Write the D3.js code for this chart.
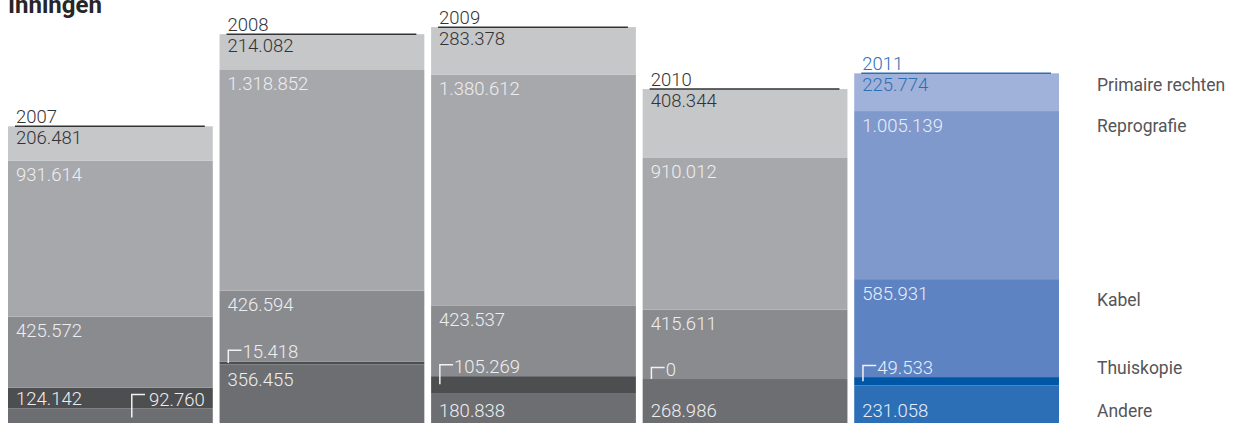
<!DOCTYPE html>
<html>
<head>
<meta charset="utf-8">
<script src="https://cdn.jsdelivr.net/npm/d3@7"></script>
<style>
  body { margin: 0; background: #fff; }
  svg { display: block; font-family: Roboto, sans-serif; }
</style>
</head>
<body>
<div id="chart-area"></div>
<script>
// DATA (bottom to top of each stack)
const years = ["2007", "2008", "2009", "2010", "2011"]
const categories = ["Andere", "Thuiskopie", "Kabel", "Reprografie", "Primaire rechten"]
const andere = [92760, 356455, 180838, 268986, 231058]
const thuiskopie = [124142, 15418, 105269, 0, 49533]
const kabel = [425572, 426594, 423537, 415611, 585931]
const reprografie = [931614, 1318852, 1380612, 910012, 1005139]
const primaire = [206481, 214082, 283378, 408344, 225774]
const title = "Inningen"

const WIDTH = 1244
const HEIGHT = 423
const BOTTOM = 424

const greys = { "Andere": "#6d6e72", "Thuiskopie": "#4d4e50", "Kabel": "#8a8b8f", "Reprografie": "#a7a8ac", "Primaire rechten": "#c6c7c9" }
const blues = { "Andere": "#2d6fb7", "Thuiskopie": "#0057a8", "Kabel": "#5e83c3", "Reprografie": "#7f99cc", "Primaire rechten": "#a0b1da" }

const svg = d3.select("#chart-area").append("svg")
  .attr("width", WIDTH)
  .attr("height", HEIGHT)

// table for the stack
const table = years.map((yr, i) => ({
  year: yr,
  "Andere": andere[i],
  "Thuiskopie": thuiskopie[i],
  "Kabel": kabel[i],
  "Reprografie": reprografie[i],
  "Primaire rechten": primaire[i]
}))
const series = d3.stack().keys(categories)(table)

// SCALES
const x = d3.scaleBand()
  .domain(years)
  .range([8, 1059])
  .paddingInner(0.032)
  .paddingOuter(0)

const y = d3.scaleLinear()
  .domain([0, 2500000])
  .range([BOTTOM, BOTTOM - 418])

const fmt = v => d3.format(",")(v).replace(/,/g, ".")
const isLast = yr => yr === years[years.length - 1]

// BARS
const layers = svg.selectAll("g.layer")
  .data(series)
  .enter().append("g")
  .attr("class", "layer")

layers.selectAll("rect")
  .data(s => s.map(d => ({ key: s.key, year: d.data.year, y0: d[0], y1: d[1] })))
  .enter().append("rect")
  .attr("x", d => x(d.year))
  .attr("width", x.bandwidth())
  .attr("y", d => y(d.y1))
  .attr("height", d => y(d.y0) - y(d.y1))
  .attr("fill", d => (isLast(d.year) ? blues : greys)[d.key])

// LABELS
// label position for every segment; also used for the legend
const labelPos = {}
series.forEach(s => {
  s.forEach(d => {
    const yr = d.data.year
    const top = y(d[1]), bot = y(d[0]), h = bot - top
    const x0 = x(yr)
    let p
    if (s.key === "Primaire rechten") {
      p = { x: x0 + 8, y: top + 18, anchor: "start" }
    } else if (s.key === "Andere") {
      if (h < 18) p = { x: x0 + x.bandwidth() - 8, y: top - 2, anchor: "end", bracket: "down" }
      else if (h > 50) p = { x: x0 + 8, y: top + 22, anchor: "start" }
      else p = { x: x0 + 8, y: BOTTOM - 7, anchor: "start" }
    } else if (h < 19) {
      p = { x: x0 + 8, y: top - 3.5, anchor: "start", bracket: "left", end: top + Math.min(h / 2, 8) }
    } else if (s.key === "Thuiskopie") {
      p = { x: x0 + 8, y: top + 17, anchor: "start" }
    } else {
      p = { x: x0 + 8, y: top + 20.5, anchor: "start" }
    }
    p.key = s.key
    p.year = yr
    p.value = d.data[s.key]
    labelPos[s.key + yr] = p
  })
})

const labels = Object.values(labelPos)
const labelColor = d => {
  if (d.key === "Primaire rechten") return isLast(d.year) ? "#2d6fb7" : "#333335"
  return isLast(d.year) ? "#e8eef8" : "#eeeeef"
}

const lg = svg.append("g").attr("class", "labels")

labels.forEach(d => {
  let tx = d.x
  if (d.bracket === "left") {
    // bracket pointing down to a thin segment
    lg.append("path")
      .attr("d", `M${d.x + 0.75},${d.end}V${d.y - 8}H${d.x + 14}`)
      .attr("fill", "none")
      .attr("stroke", "#f2f2f2")
      .attr("stroke-width", 1.5)
    tx = d.x + 15
  }
  const t = lg.append("text")
    .attr("x", tx)
    .attr("y", d.y)
    .attr("text-anchor", d.anchor)
    .attr("font-size", 18.5)
    .attr("font-weight", 300)
    .attr("fill", labelColor(d))
    .text(fmt(d.value))
  if (d.bracket === "down") {
    const w = t.node().getComputedTextLength()
    const bx = d.x - w - 18
    lg.append("path")
      .attr("d", `M${bx + 0.75},${d.y + 11}V${d.y - 12}H${bx + 14}`)
      .attr("fill", "none")
      .attr("stroke", "#f2f2f2")
      .attr("stroke-width", 1.5)
  }
})

// YEAR HEADERS
const totals = years.map((yr, i) => andere[i] + thuiskopie[i] + kabel[i] + reprografie[i] + primaire[i])
const heads = svg.selectAll("g.head")
  .data(years)
  .enter().append("g")
  .attr("class", "head")

heads.append("line")
  .attr("x1", d => x(d) + 7)
  .attr("x2", d => x(d) + x.bandwidth() - 8)
  .attr("y1", (d, i) => y(totals[i]))
  .attr("y2", (d, i) => y(totals[i]))
  .attr("stroke", d => isLast(d) ? "#2d6fb7" : "#333335")
  .attr("stroke-width", 1.5)

heads.append("text")
  .attr("x", d => x(d) + 8)
  .attr("y", (d, i) => y(totals[i]) - 3.5)
  .attr("font-size", 18.5)
  .attr("font-weight", 300)
  .attr("fill", d => isLast(d) ? "#2d6fb7" : "#333335")
  .text(d => d)

// LEGEND (next to the labels of the last year)
const lastYear = years[years.length - 1]
const legendNudge = { "Kabel": 6.5 }
svg.append("g").attr("class", "legend")
  .selectAll("text")
  .data(categories)
  .enter().append("text")
  .attr("x", 1097)
  .attr("y", d => labelPos[d + lastYear].y + (legendNudge[d] || 0))
  .attr("font-size", 17.5)
  .attr("fill", "#555558")
  .text(d => d)

// TITLE (cut at the top edge, as in the original)
svg.append("text")
  .attr("x", 8)
  .attr("y", 13)
  .attr("font-size", 24)
  .attr("font-weight", 700)
  .attr("fill", "#262628")
  .text(title)
</script>
</body>
</html>
